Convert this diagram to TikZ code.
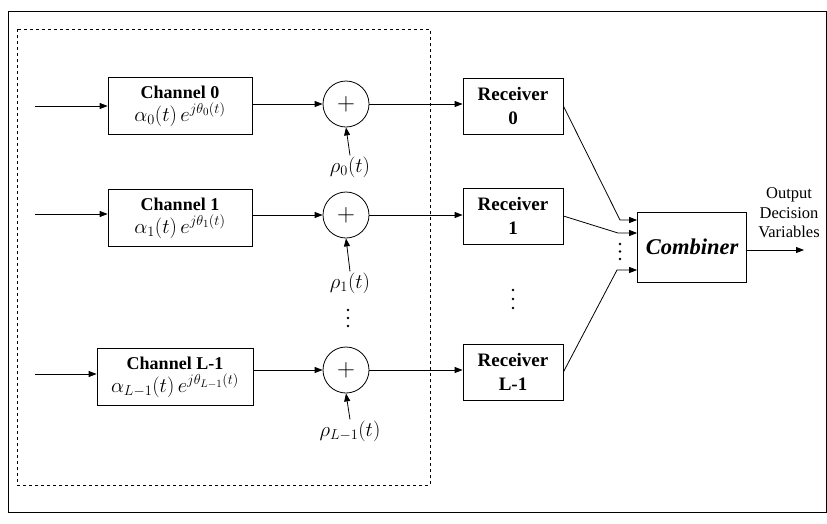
\documentclass[tikz,border=0pt]{standalone}
\usepackage{fontspec}
\setmainfont{Liberation Serif}
\usetikzlibrary{positioning,arrows.meta}
\tikzset{
  chbox/.style ={rectangle, draw, thick, minimum width=144pt, minimum height=57pt,
                 align=center, inner sep=1pt, font=\fontsize{18}{20}\selectfont},
  rxbox/.style ={rectangle, draw, thick, minimum width=100pt, minimum height=56pt,
                 align=center, inner sep=2pt, font=\bfseries\fontsize{19}{24}\selectfont},
  sumnode/.style={circle, draw, thick, minimum size=46pt, inner sep=0pt,
                 font=\fontsize{24}{24}\selectfont},
  arr/.style   ={-{Triangle[length=8pt,width=6pt]}, thick},
  nlab/.style  ={font=\fontsize{20}{22}\selectfont, inner sep=1pt},
  vdot/.style  ={circle, fill, inner sep=0pt, minimum size=2.6pt},
}
\newcommand{\chgain}[1]{{\fontsize{21}{22}\selectfont$\alpha_{#1}(t)\,e^{j\theta_{#1}(t)}$}}
\begin{document}
\begin{tikzpicture}[x=1pt,y=-1pt]
  \useasboundingbox (0,0) rectangle (827,523);
  % frames
  \draw[thick] (8,11) rectangle (826,512);
  \draw[dashed] (17,29) rectangle (430,485);
  % channels
  \node[chbox] (ch0) at (180,106) {\textbf{Channel 0}\\[3pt] \chgain{0}};
  \node[chbox] (ch1) at (180,218) {\textbf{Channel 1}\\[3pt] \chgain{1}};
  \node[chbox, minimum width=156pt] (chL) at (175,377) {\textbf{Channel L-1}\\[3pt] \chgain{L-1}};
  \coordinate (in0) at (35,106);
  \coordinate (in1) at (35,214);
  \coordinate (inL) at (35,374);
  \draw[arr] (in0) -- (ch0.west |- in0);
  \draw[arr] (in1) -- (ch1.west |- in1);
  \draw[arr] (inL) -- (chL.west |- inL);
  % adders
  \node[sumnode] (add0) at (346,104) {$+$};
  \node[sumnode] (add1) at (346,215) {$+$};
  \node[sumnode] (addL) at (346,370) {$+$};
  \draw[arr] (ch0.east |- add0) -- (add0);
  \draw[arr] (ch1.east |- add1) -- (add1);
  \draw[arr] (chL.east |- addL) -- (addL);
  \node[nlab] (rho0) at (350,167) {$\rho_0(t)$};
  \node[nlab] (rho1) at (350,283) {$\rho_1(t)$};
  \node[nlab] (rhoL) at (350,431) {$\rho_{L-1}(t)$};
  \draw[arr] (rho0.north) -- (add0.south);
  \draw[arr] (rho1.north) -- (add1.south);
  \draw[arr] (rhoL.north) -- (addL.south);
  \foreach \k in {0,1,2} \node[vdot] (dA\k) at (348,310+8*\k) {};
  % receivers
  \node[rxbox] (rx0) at (513,106) {Receiver\\0};
  \node[rxbox] (rx1) at (513,216) {Receiver\\1};
  \node[rxbox] (rxL) at (513,372) {Receiver\\L-1};
  \draw[arr] (add0) -- (rx0.west |- add0);
  \draw[arr] (add1) -- (rx1.west |- add1);
  \draw[arr] (addL) -- (rxL.west |- addL);
  \foreach \k in {0,1,2} \node[vdot] (dB\k) at (513,290+9*\k) {};
  % combiner
  \node[rectangle, draw, thick, minimum width=109pt, minimum height=70pt,
        font=\bfseries\itshape\fontsize{22.5}{22.5}\selectfont] (comb) at (692,247) {Combiner};
  \coordinate (c0) at (620,220);
  \coordinate (c1) at (618,233);
  \coordinate (cL) at (617,270);
  \draw[arr] (rx0.east) -- (c0) -- (comb.west |- c0);
  \draw[arr] (rx1.east) -- (c1) -- (comb.west |- c1);
  \draw[arr] (rxL.east) -- (cL) -- (comb.west |- cL);
  \foreach \k in {0,1,2} \node[vdot] (dC\k) at (620,244+7.5*\k) {};
  \coordinate (out) at (804,250);
  \draw[arr] (comb.east |- out) -- (out);
  \node[align=center, inner sep=0pt, font=\fontsize{16.5}{19.5}\selectfont]
    (outlab) at (789,213) {Output\\Decision\\Variables};
\end{tikzpicture}
\end{document}
